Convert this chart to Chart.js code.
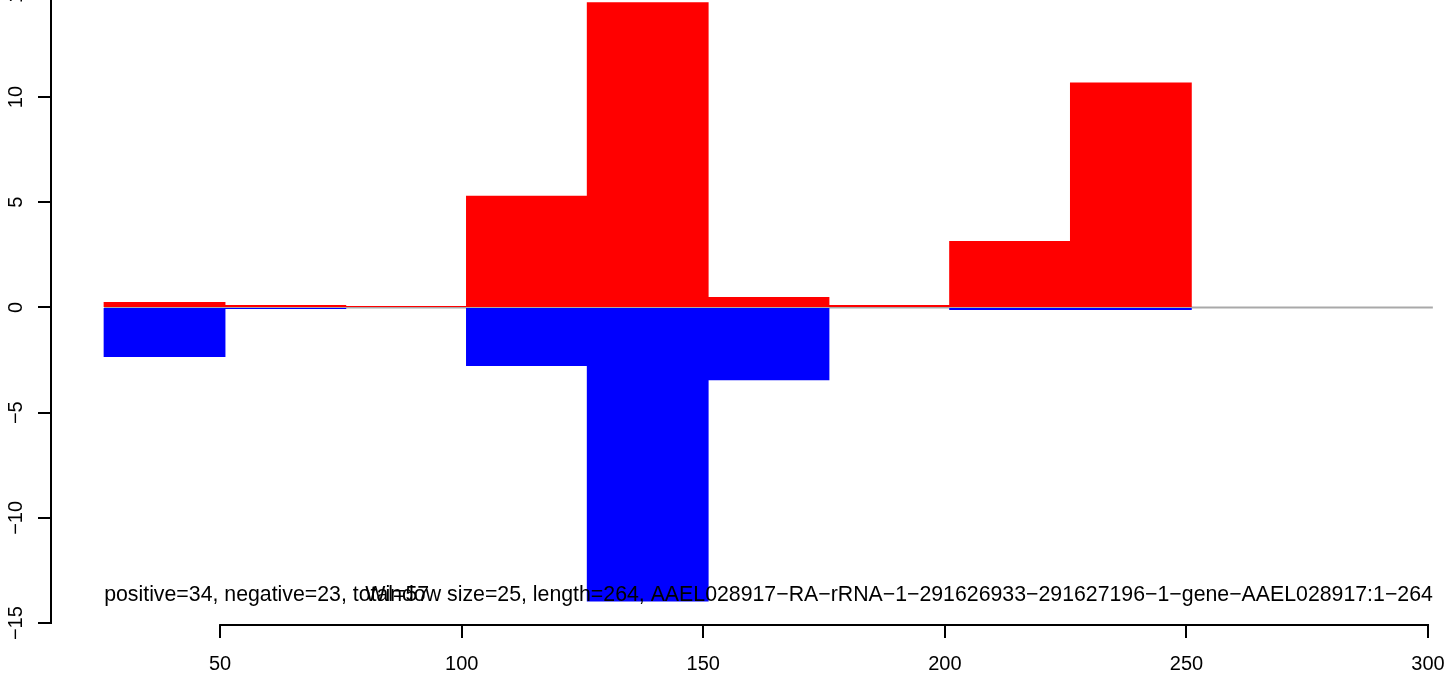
<!DOCTYPE html>
<html><head><meta charset="utf-8">
<script src="https://cdn.jsdelivr.net/npm/chart.js@4/dist/chart.umd.min.js"></script>
<style>
html,body{margin:0;padding:0;background:#fff;overflow:hidden;width:1444px;height:676px;position:relative;}
#wrap{position:absolute;left:0;top:-30px;width:1540px;height:716px;}
canvas{display:block;}
</style></head><body>
<div id="wrap"><canvas id="c" width="1540" height="716"></canvas></div>
<script>
const windowStarts = [26, 51, 76, 101, 126, 151, 176, 201, 226, 251, 276];
const windowSize = 25;
const positiveValues = [0.24, 0.10, 0.05, 5.29, 14.48, 0.48, 0.10, 3.14, 10.67, 0, 0];
const negativeValues = [-2.33, -0.05, 0, -2.76, -13.95, -3.43, 0, -0.10, -0.10, 0, 0];
const baselineX = [26, 301];
const baselineY = [0, 0];
const xTickValues = [50, 100, 150, 200, 250, 300];
const yTickValues = [-15, -10, -5, 0, 5, 10, 15];
const xRange = [15, 312];
const yRange = [-15.09, 15.565];
const noteLeft = "positive=34, negative=23, total=57";
const noteRight = "Window size=25, length=264, AAEL028917-RA-rRNA-1-291626933-291627196-1-gene-AAEL028917:1-264";
const noteLeftX = 26, noteRightX = 301, noteY = -13.95;

const FONT = '"Liberation Sans", Arial, Helvetica, sans-serif';
const fmt = v => String(v).replace('-', '\u2212');

const rPlugin = {
  id: 'rstyle',
  beforeDatasetsDraw(chart) {
    const ctx = chart.ctx, x = chart.scales.x, y = chart.scales.y;
    ctx.save();
    ctx.strokeStyle = '#a9a9a9'; ctx.lineWidth = 2;
    ctx.beginPath();
    baselineX.forEach((v, i) => {
      const px = x.getPixelForValue(v), py = y.getPixelForValue(baselineY[i]);
      if (i === 0) ctx.moveTo(px, py); else ctx.lineTo(px, py);
    });
    ctx.stroke();
    ctx.restore();
  },
  afterDraw(chart) {
    const ctx = chart.ctx, x = chart.scales.x, y = chart.scales.y, ca = chart.chartArea;
    ctx.save();
    ctx.strokeStyle = '#000'; ctx.lineWidth = 2;
    ctx.beginPath();
    ctx.moveTo(x.getPixelForValue(xTickValues[0]) - 1, ca.bottom);
    ctx.lineTo(x.getPixelForValue(xTickValues[xTickValues.length - 1]) + 1, ca.bottom);
    ctx.stroke();
    ctx.beginPath();
    ctx.moveTo(ca.left, y.getPixelForValue(yTickValues[0]) + 1);
    ctx.lineTo(ca.left, y.getPixelForValue(yTickValues[yTickValues.length - 1]) - 1);
    ctx.stroke();
    ctx.fillStyle = '#000';
    ctx.font = '20px ' + FONT;
    ctx.textAlign = 'center'; ctx.textBaseline = 'alphabetic';
    for (const v of yTickValues) {
      const py = y.getPixelForValue(v);
      ctx.save(); ctx.translate(ca.left - 29, py); ctx.rotate(-Math.PI / 2);
      ctx.fillText(fmt(v), 0, 0); ctx.restore();
    }
    ctx.font = '21.3px ' + FONT;
    ctx.textAlign = 'left';
    ctx.fillText(noteLeft.replace(/-/g, '\u2212'), x.getPixelForValue(noteLeftX), y.getPixelForValue(noteY));
    ctx.textAlign = 'right';
    ctx.fillText(noteRight.replace(/-/g, '\u2212'), x.getPixelForValue(noteRightX), y.getPixelForValue(noteY));
    ctx.restore();
  }
};

const toBar = vals => windowStarts.map((s, i) => ({ x: s + windowSize / 2, y: vals[i] === 0 ? null : vals[i] }));

new Chart(document.getElementById('c'), {
  type: 'bar',
  data: {
    datasets: [
      {
        label: 'positive', data: toBar(positiveValues),
        backgroundColor: '#ff0000', borderWidth: 0, grouped: false, inflateAmount: 0.5,
        barPercentage: 1, categoryPercentage: 1, order: 1
      },
      {
        label: 'negative', data: toBar(negativeValues),
        backgroundColor: '#0000ff', borderWidth: 0, grouped: false, inflateAmount: 0.5,
        barPercentage: 1, categoryPercentage: 1, order: 2
      }
    ]
  },
  options: {
    responsive: false, animation: false, devicePixelRatio: 1,
    layout: { padding: { left: 0, right: 54, top: 10, bottom: 0 }, autoPadding: false },
    plugins: { legend: { display: false }, tooltip: { enabled: false } },
    scales: {
      x: {
        type: 'linear', min: xRange[0], max: xRange[1], offset: false,
        afterBuildTicks: s => { s.ticks = xTickValues.map(v => ({ value: v })); },
        afterFit: s => { s.height = 61; },
        grid: { offset: false, drawOnChartArea: false, drawTicks: true, tickLength: 13, color: '#000', lineWidth: 2 },
        border: { display: false },
        ticks: { color: '#000', font: { family: FONT, size: 20 }, padding: 14, maxRotation: 0, autoSkip: false,
                 callback: v => fmt(v) }
      },
      y: {
        type: 'linear', min: yRange[0], max: yRange[1], offset: false,
        afterBuildTicks: s => { s.ticks = yTickValues.map(v => ({ value: v })); },
        afterFit: s => { s.width = 51; },
        grid: { offset: false, drawOnChartArea: false, drawTicks: true, tickLength: 13, color: '#000', lineWidth: 2 },
        border: { display: false },
        ticks: { display: false }
      }
    }
  },
  plugins: [rPlugin]
});
</script>
</body></html>
